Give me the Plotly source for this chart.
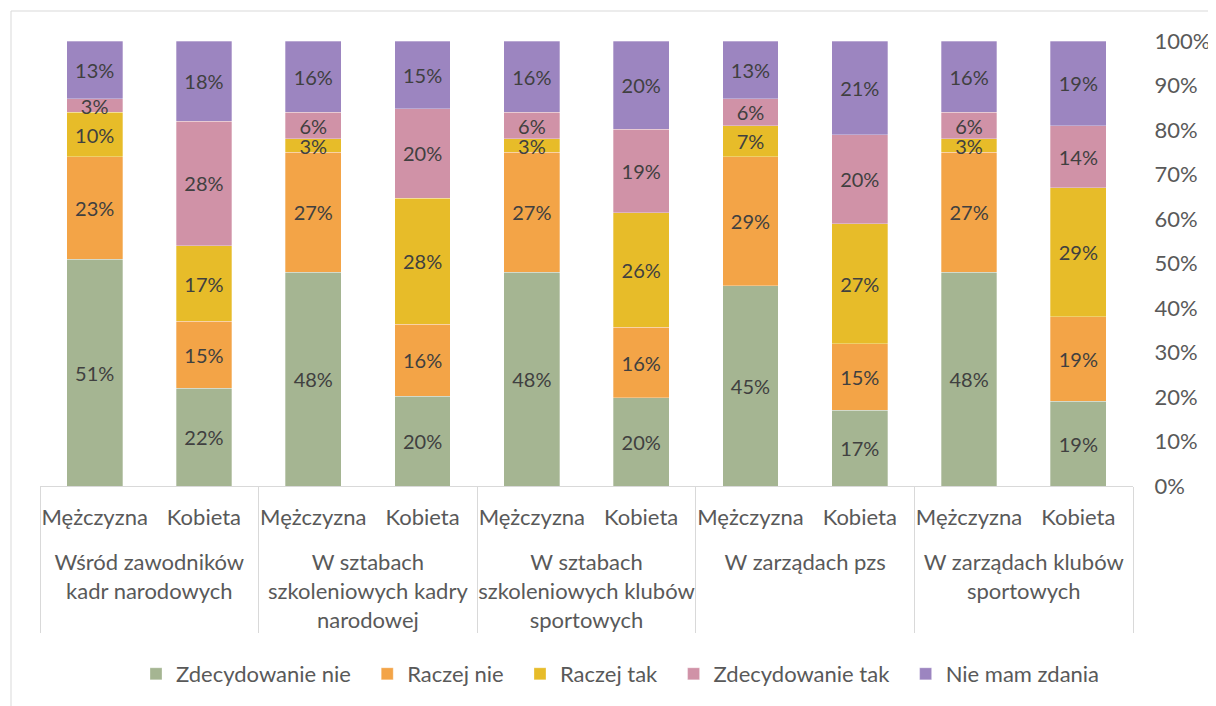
import plotly.graph_objects as go

groups = ["Wśród zawodników<br>kadr narodowych",
          "W sztabach<br>szkoleniowych kadry<br>narodowej",
          "W sztabach<br>szkoleniowych klubów<br>sportowych",
          "W zarządach pzs",
          "W zarządach klubów<br>sportowych"]
genders = ["Mężczyzna", "Kobieta"]

series_names = ["Zdecydowanie nie", "Raczej nie", "Raczej tak", "Zdecydowanie tak", "Nie mam zdania"]
colors = ["#A5B592", "#F3A447", "#E7BC29", "#D092A7", "#9C85C0"]

zdecydowanie_nie = [51, 22, 48, 20, 48, 20, 45, 17, 48, 19]
raczej_nie       = [23, 15, 27, 16, 27, 16, 29, 15, 27, 19]
raczej_tak       = [10, 17, 3, 28, 3, 26, 7, 27, 3, 29]
zdecydowanie_tak = [3, 28, 6, 20, 6, 19, 6, 20, 6, 14]
nie_mam_zdania   = [13, 18, 16, 15, 16, 20, 13, 21, 16, 19]

values = [zdecydowanie_nie, raczej_nie, raczej_tak, zdecydowanie_tak, nie_mam_zdania]

y_ticks = list(range(0, 101, 10))
y_ticktext = [f"{t}%" for t in y_ticks]

# symmetric non-breaking spaces in a larger font: make the first label row taller,
# which pushes the group-name row further down, without shifting the label centre
SP = "<span style='font-size:46px'>\u00a0</span>"
x_lvl1 = [g for g in groups for _ in genders]
x_lvl2 = [SP + s + SP for _ in groups for s in genders]

# page body has an 8px default margin; figure is sized to fit the window
W, H = 1208, 698
PL, PR, PT, PB = 32, 1125, 33, 478   # plot area in figure pixels

FONT = "Lato"
NB = "\u00a0\u00a0"
fig = go.Figure()
for name, col, vals in zip(series_names, colors, values):
    fig.add_trace(go.Bar(
        x=[x_lvl1, x_lvl2], y=vals, name=name + NB,
        marker=dict(color=col, line=dict(color="rgba(255,255,255,0.6)", width=0.5)),
        text=[f"{v}%" for v in vals], textposition="inside",
        insidetextanchor="middle", constraintext="none",
        textfont=dict(family=FONT, size=20, color="#404040"),
        cliponaxis=False,
    ))

fig.update_layout(
    barmode="stack", barnorm="percent", bargap=0.49,
    width=W, height=H,
    margin=dict(l=PL, r=W - PR, t=PT, b=H - PB, autoexpand=False),
    paper_bgcolor="white", plot_bgcolor="white",
    font=dict(family=FONT, size=22, color="#595959"),
    showlegend=True,
    legend=dict(orientation="h", x=(626 - 8 - PL) / (PR - PL), xanchor="center",
                y=(PB - (674 - 8)) / (PB - PT), yanchor="middle",
                font=dict(family=FONT, size=22, color="#595959"), traceorder="normal",
                itemclick=False),
    xaxis=dict(type="multicategory", showline=True, linecolor="#D9D9D9", linewidth=1,
               showdividers=True, dividercolor="#D9D9D9", dividerwidth=1,
               tickfont=dict(family=FONT, size=22, color="#595959"), tickangle=0,
               ticks="", ticklabelstandoff=12,
               showgrid=False, automargin=False),
    yaxis=dict(side="right", range=[0, 100.02], tickvals=y_ticks, ticktext=y_ticktext,
               showgrid=False, zeroline=False, showline=False,
               ticks="outside", ticklen=16, tickcolor="rgba(0,0,0,0)",
               tickfont=dict(family=FONT, size=22, color="#595959"), automargin=False),
)

fig.add_shape(type="rect", xref="paper", yref="paper",
              x0=(3 - PL) / (PR - PL), x1=(W + 5 - PL) / (PR - PL),
              y0=(PB - (H + 5)) / (PB - PT), y1=(PB - 3) / (PB - PT),
              line=dict(color="#D9D9D9", width=1), fillcolor="rgba(0,0,0,0)", layer="below")

fig.write_html("out.html")
